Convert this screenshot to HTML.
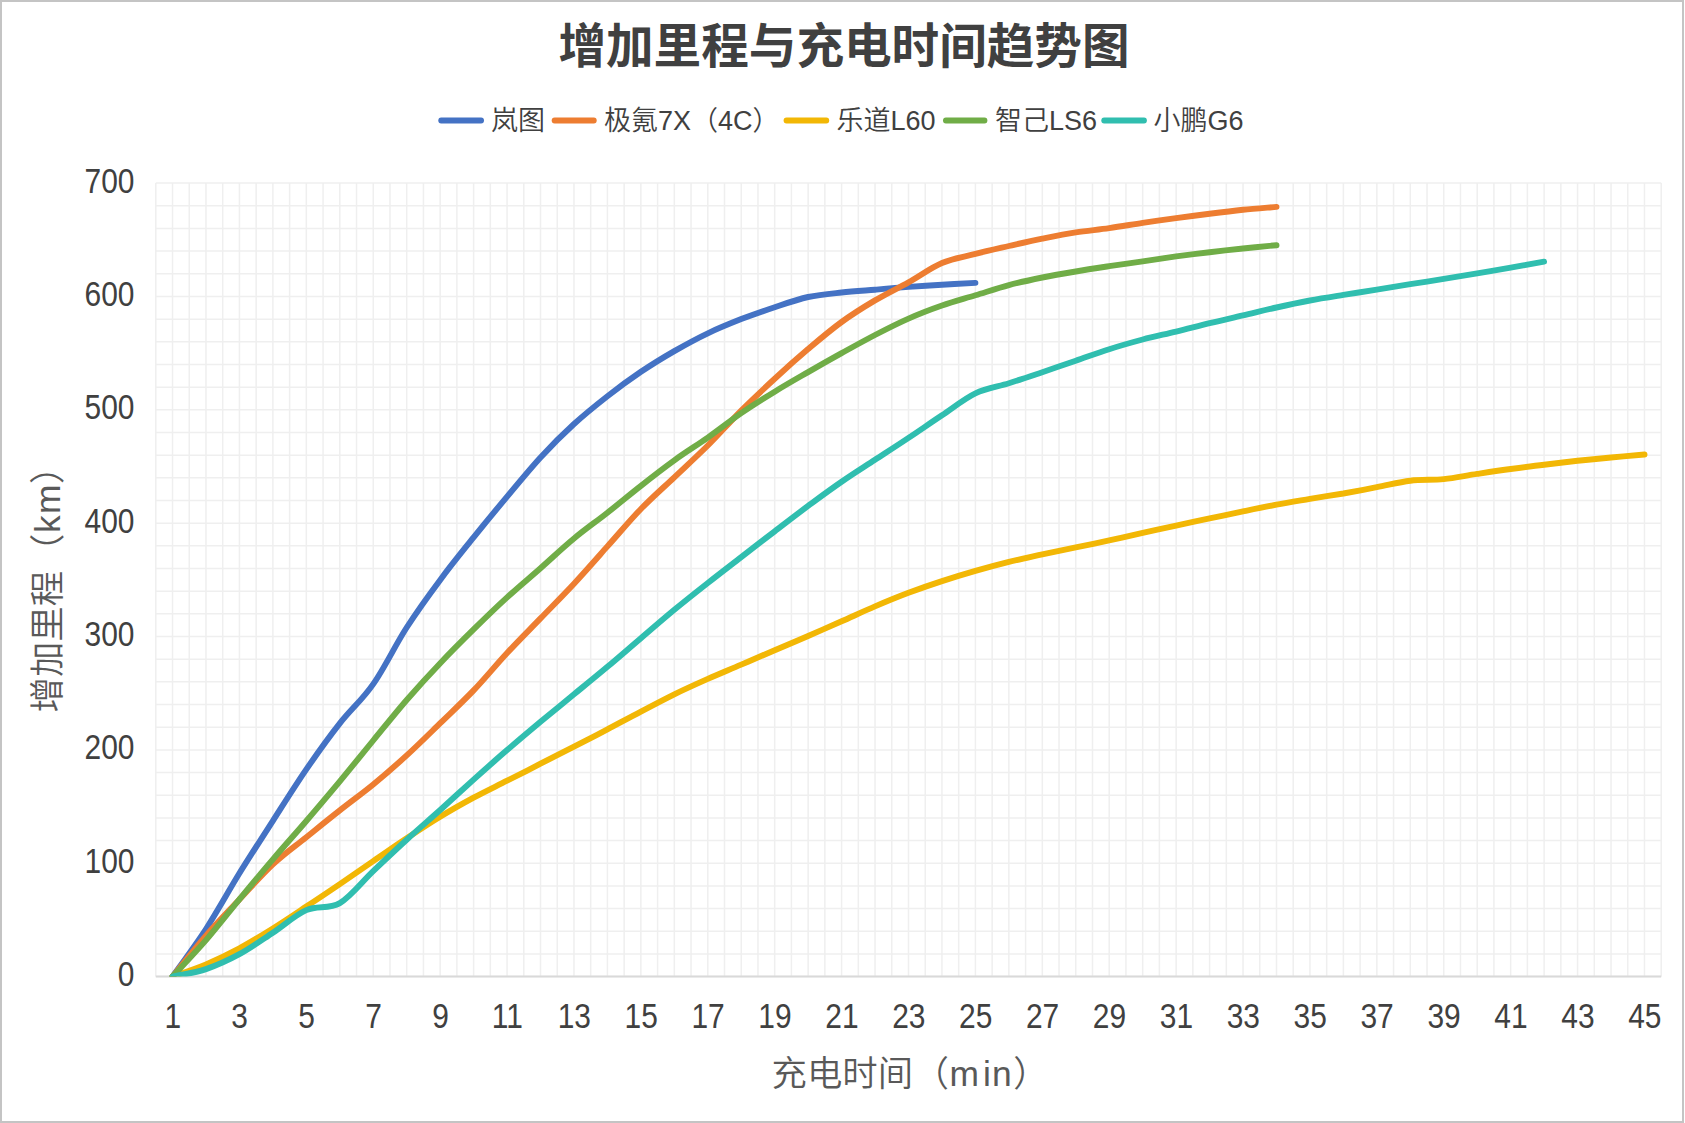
<!DOCTYPE html>
<html><head><meta charset="utf-8"><title>增加里程与充电时间趋势图</title>
<style>
html,body{margin:0;padding:0;background:#fff;}
body{width:1685px;height:1123px;overflow:hidden;}
svg{display:block;}
</style></head><body>
<svg width="1685" height="1123" viewBox="0 0 1685 1123">
<rect x="0" y="0" width="1685" height="1123" fill="#fff"/>
<rect x="1" y="1" width="1682" height="1121" fill="none" stroke="#c4c4c4" stroke-width="2"/>
<path d="M155.80 183.1V976.6M172.53 183.1V976.6M189.25 183.1V976.6M205.98 183.1V976.6M222.71 183.1V976.6M239.43 183.1V976.6M256.16 183.1V976.6M272.89 183.1V976.6M289.61 183.1V976.6M306.34 183.1V976.6M323.07 183.1V976.6M339.79 183.1V976.6M356.52 183.1V976.6M373.25 183.1V976.6M389.97 183.1V976.6M406.70 183.1V976.6M423.43 183.1V976.6M440.15 183.1V976.6M456.88 183.1V976.6M473.61 183.1V976.6M490.33 183.1V976.6M507.06 183.1V976.6M523.79 183.1V976.6M540.51 183.1V976.6M557.24 183.1V976.6M573.97 183.1V976.6M590.69 183.1V976.6M607.42 183.1V976.6M624.15 183.1V976.6M640.87 183.1V976.6M657.60 183.1V976.6M674.33 183.1V976.6M691.05 183.1V976.6M707.78 183.1V976.6M724.51 183.1V976.6M741.23 183.1V976.6M757.96 183.1V976.6M774.69 183.1V976.6M791.41 183.1V976.6M808.14 183.1V976.6M824.87 183.1V976.6M841.59 183.1V976.6M858.32 183.1V976.6M875.05 183.1V976.6M891.77 183.1V976.6M908.50 183.1V976.6M925.23 183.1V976.6M941.95 183.1V976.6M958.68 183.1V976.6M975.41 183.1V976.6M992.13 183.1V976.6M1008.86 183.1V976.6M1025.59 183.1V976.6M1042.31 183.1V976.6M1059.04 183.1V976.6M1075.77 183.1V976.6M1092.49 183.1V976.6M1109.22 183.1V976.6M1125.95 183.1V976.6M1142.67 183.1V976.6M1159.40 183.1V976.6M1176.13 183.1V976.6M1192.85 183.1V976.6M1209.58 183.1V976.6M1226.31 183.1V976.6M1243.03 183.1V976.6M1259.76 183.1V976.6M1276.49 183.1V976.6M1293.21 183.1V976.6M1309.94 183.1V976.6M1326.67 183.1V976.6M1343.39 183.1V976.6M1360.12 183.1V976.6M1376.85 183.1V976.6M1393.57 183.1V976.6M1410.30 183.1V976.6M1427.03 183.1V976.6M1443.75 183.1V976.6M1460.48 183.1V976.6M1477.21 183.1V976.6M1493.93 183.1V976.6M1510.66 183.1V976.6M1527.39 183.1V976.6M1544.11 183.1V976.6M1560.84 183.1V976.6M1577.57 183.1V976.6M1594.29 183.1V976.6M1611.02 183.1V976.6M1627.75 183.1V976.6M1644.47 183.1V976.6M1661.20 183.1V976.6M155.8 976.60H1661.2M155.8 953.93H1661.2M155.8 931.26H1661.2M155.8 908.59H1661.2M155.8 885.91H1661.2M155.8 863.24H1661.2M155.8 840.57H1661.2M155.8 817.90H1661.2M155.8 795.23H1661.2M155.8 772.56H1661.2M155.8 749.89H1661.2M155.8 727.21H1661.2M155.8 704.54H1661.2M155.8 681.87H1661.2M155.8 659.20H1661.2M155.8 636.53H1661.2M155.8 613.86H1661.2M155.8 591.19H1661.2M155.8 568.51H1661.2M155.8 545.84H1661.2M155.8 523.17H1661.2M155.8 500.50H1661.2M155.8 477.83H1661.2M155.8 455.16H1661.2M155.8 432.49H1661.2M155.8 409.81H1661.2M155.8 387.14H1661.2M155.8 364.47H1661.2M155.8 341.80H1661.2M155.8 319.13H1661.2M155.8 296.46H1661.2M155.8 273.79H1661.2M155.8 251.11H1661.2M155.8 228.44H1661.2M155.8 205.77H1661.2M155.8 183.10H1661.2" stroke="#efefef" stroke-width="1.5" fill="none"/>
<path d="M155.8 976.6H1661.2" stroke="#d9d9d9" stroke-width="2" fill="none"/>
<g font-family='"Liberation Sans", "Noto Sans CJK SC", sans-serif' font-size="47.6" font-weight="700" fill="#404040" text-anchor="middle">
<text x="844" y="63">增加里程与充电时间趋势图</text></g>
<g font-family='"Liberation Sans", "Noto Sans CJK SC", sans-serif' font-size="27" font-weight="350" fill="#404040"><text x="491.0" y="130">岚图</text><text x="604.0" y="130">极氪7X（4C）</text><text x="836.5" y="130">乐道L60</text><text x="995.0" y="130">智己LS6</text><text x="1153.5" y="130">小鹏G6</text></g>
<g stroke-width="5.8" stroke-linecap="round" fill="none"><line x1="441.2" y1="120.5" x2="481.1" y2="120.5" stroke="#4472C4"/><line x1="554.6" y1="120.5" x2="593.8" y2="120.5" stroke="#ED7D31"/><line x1="786.5" y1="120.5" x2="826.3" y2="120.5" stroke="#F2B705"/><line x1="945.9" y1="120.5" x2="984.5" y2="120.5" stroke="#70AD47"/><line x1="1104.2" y1="120.5" x2="1144.0" y2="120.5" stroke="#30BEAF"/></g>
<g font-family='"Liberation Sans", "Noto Sans CJK SC", sans-serif' font-size="34.4" fill="#404040" text-anchor="end"><text transform="translate(134.5 986.0) scale(0.87 1)">0</text><text transform="translate(134.5 872.6) scale(0.87 1)">100</text><text transform="translate(134.5 759.3) scale(0.87 1)">200</text><text transform="translate(134.5 645.9) scale(0.87 1)">300</text><text transform="translate(134.5 532.6) scale(0.87 1)">400</text><text transform="translate(134.5 419.2) scale(0.87 1)">500</text><text transform="translate(134.5 305.9) scale(0.87 1)">600</text><text transform="translate(134.5 192.5) scale(0.87 1)">700</text></g>
<g font-family='"Liberation Sans", "Noto Sans CJK SC", sans-serif' font-size="34.4" fill="#404040" text-anchor="middle"><text transform="translate(172.8 1028) scale(0.87 1)">1</text><text transform="translate(239.7 1028) scale(0.87 1)">3</text><text transform="translate(306.6 1028) scale(0.87 1)">5</text><text transform="translate(373.5 1028) scale(0.87 1)">7</text><text transform="translate(440.5 1028) scale(0.87 1)">9</text><text transform="translate(507.4 1028) scale(0.87 1)">11</text><text transform="translate(574.3 1028) scale(0.87 1)">13</text><text transform="translate(641.2 1028) scale(0.87 1)">15</text><text transform="translate(708.1 1028) scale(0.87 1)">17</text><text transform="translate(775.0 1028) scale(0.87 1)">19</text><text transform="translate(841.9 1028) scale(0.87 1)">21</text><text transform="translate(908.8 1028) scale(0.87 1)">23</text><text transform="translate(975.7 1028) scale(0.87 1)">25</text><text transform="translate(1042.6 1028) scale(0.87 1)">27</text><text transform="translate(1109.5 1028) scale(0.87 1)">29</text><text transform="translate(1176.4 1028) scale(0.87 1)">31</text><text transform="translate(1243.3 1028) scale(0.87 1)">33</text><text transform="translate(1310.2 1028) scale(0.87 1)">35</text><text transform="translate(1377.1 1028) scale(0.87 1)">37</text><text transform="translate(1444.1 1028) scale(0.87 1)">39</text><text transform="translate(1511.0 1028) scale(0.87 1)">41</text><text transform="translate(1577.9 1028) scale(0.87 1)">43</text><text transform="translate(1644.8 1028) scale(0.87 1)">45</text></g>
<g font-family='"Liberation Sans", "Noto Sans CJK SC", sans-serif' font-size="35.4" font-weight="350" fill="#595959">
<text y="1085.5"><tspan x="771.5">充电时间</tspan><tspan x="913.5">（</tspan><tspan x="949.5">m</tspan><tspan x="983">i</tspan><tspan x="992">n</tspan><tspan x="1013.3">）</tspan></text>
<text transform="translate(59.6 0) rotate(-90)"><tspan x="-712.5">增加里程</tspan><tspan x="-569">（</tspan><tspan x="-533">k</tspan><tspan x="-514">m</tspan><tspan x="-484">）</tspan></text></g>
<defs><clipPath id="pc"><rect x="155.8" y="150" width="1505.4" height="826.6"/></clipPath></defs>
<g fill="none" stroke-width="5.9" stroke-linecap="round" stroke-linejoin="round" clip-path="url(#pc)"><path d="M172.5 976.6C178.1 968.7 194.8 946.2 206.0 929.0C217.1 911.8 228.3 891.4 239.4 873.3C250.6 855.3 261.7 838.2 272.9 820.8C284.0 803.5 295.2 785.6 306.3 769.4C317.5 753.1 328.6 737.6 339.8 723.4C350.9 709.2 362.1 700.1 373.2 684.1C384.4 668.2 395.5 644.8 406.7 627.5C417.9 610.1 429.0 594.9 440.2 579.9C451.3 564.8 462.5 551.2 473.6 537.3C484.8 523.5 495.9 510.0 507.1 496.6C518.2 483.3 529.4 469.5 540.5 457.4C551.7 445.3 562.8 434.2 574.0 424.0C585.1 413.8 596.3 404.9 607.4 396.2C618.6 387.5 629.7 379.4 640.9 371.8C652.0 364.3 663.2 357.5 674.3 351.1C685.5 344.7 696.6 338.6 707.8 333.3C718.9 328.0 730.1 323.5 741.2 319.1C752.4 314.8 763.5 310.9 774.7 307.2C785.8 303.5 797.0 299.5 808.1 297.0C819.3 294.6 830.4 293.7 841.6 292.5C852.7 291.3 863.9 290.6 875.0 289.7C886.2 288.7 897.3 287.7 908.5 286.9C919.7 286.1 930.8 285.5 942.0 284.8C953.1 284.1 969.8 283.2 975.4 282.9" stroke="#4472C4"/><path d="M172.5 976.6C178.1 969.8 194.8 948.4 206.0 935.6C217.1 922.7 228.3 911.4 239.4 899.5C250.6 887.7 261.7 874.8 272.9 864.4C284.0 854.0 295.2 846.2 306.3 837.2C317.5 828.2 328.6 819.2 339.8 810.4C350.9 801.6 362.1 793.6 373.2 784.5C384.4 775.3 395.5 765.6 406.7 755.4C417.9 745.2 429.0 734.1 440.2 723.2C451.3 712.4 462.5 702.1 473.6 690.4C484.8 678.7 495.9 665.0 507.1 653.0C518.2 641.0 529.4 629.9 540.5 618.4C551.7 606.8 562.8 595.7 574.0 583.7C585.1 571.7 596.3 558.9 607.4 546.4C618.6 534.0 629.7 520.5 640.9 509.0C652.0 497.5 663.2 487.8 674.3 477.3C685.5 466.7 696.6 456.6 707.8 445.5C718.9 434.4 730.1 421.7 741.2 410.6C752.4 399.5 763.5 389.0 774.7 378.8C785.8 368.5 797.0 358.5 808.1 349.1C819.3 339.6 830.4 330.1 841.6 322.0C852.7 313.9 863.9 307.0 875.0 300.4C886.2 293.8 897.3 288.5 908.5 282.3C919.7 276.1 930.8 267.7 942.0 263.0C953.1 258.3 964.3 256.8 975.4 253.9C986.6 251.1 997.7 248.6 1008.9 246.0C1020.0 243.5 1031.2 240.9 1042.3 238.6C1053.5 236.4 1064.6 234.2 1075.8 232.4C1086.9 230.7 1098.1 229.7 1109.2 228.1C1120.4 226.5 1131.5 224.6 1142.7 222.9C1153.8 221.2 1165.0 219.7 1176.1 218.1C1187.3 216.6 1198.4 215.1 1209.6 213.7C1220.7 212.3 1231.9 210.9 1243.0 209.7C1254.2 208.6 1270.9 207.4 1276.5 206.9" stroke="#ED7D31"/><path d="M172.5 976.6C178.1 974.6 194.8 969.1 206.0 964.4C217.1 959.6 228.3 954.2 239.4 948.3C250.6 942.3 261.7 935.4 272.9 928.4C284.0 921.5 295.2 913.9 306.3 906.5C317.5 899.2 328.6 891.7 339.8 884.1C350.9 876.5 362.1 868.7 373.2 861.1C384.4 853.5 395.5 845.7 406.7 838.3C417.9 830.9 429.0 823.5 440.2 816.8C451.3 810.0 462.5 803.7 473.6 797.7C484.8 791.7 495.9 786.4 507.1 780.7C518.2 775.1 529.4 769.4 540.5 763.7C551.7 758.0 562.8 752.3 574.0 746.6C585.1 740.9 596.3 735.2 607.4 729.4C618.6 723.5 629.7 717.4 640.9 711.6C652.0 705.7 663.2 699.8 674.3 694.3C685.5 688.9 696.6 683.9 707.8 678.9C718.9 674.0 730.1 669.4 741.2 664.6C752.4 659.9 763.5 655.0 774.7 650.2C785.8 645.5 797.0 640.8 808.1 636.0C819.3 631.1 830.4 626.3 841.6 621.3C852.7 616.4 863.9 611.1 875.0 606.4C886.2 601.6 897.3 597.0 908.5 592.8C919.7 588.6 930.8 584.7 942.0 581.1C953.1 577.5 964.3 574.1 975.4 570.9C986.6 567.7 997.7 564.7 1008.9 561.9C1020.0 559.2 1031.2 556.8 1042.3 554.3C1053.5 551.9 1064.6 549.8 1075.8 547.4C1086.9 545.1 1098.1 542.8 1109.2 540.4C1120.4 538.0 1131.5 535.4 1142.7 532.9C1153.8 530.4 1165.0 528.0 1176.1 525.6C1187.3 523.1 1198.4 520.8 1209.6 518.4C1220.7 516.0 1231.9 513.7 1243.0 511.4C1254.2 509.1 1265.3 506.8 1276.5 504.7C1287.6 502.6 1298.8 500.8 1309.9 498.9C1321.1 497.0 1332.2 495.4 1343.4 493.5C1354.5 491.5 1365.7 489.4 1376.8 487.2C1388.0 485.1 1399.1 482.0 1410.3 480.7C1421.5 479.3 1432.6 480.2 1443.8 479.1C1454.9 477.9 1466.1 475.5 1477.2 473.9C1488.4 472.2 1499.5 470.5 1510.7 469.0C1521.8 467.5 1533.0 466.0 1544.1 464.7C1555.3 463.3 1566.4 462.0 1577.6 460.8C1588.7 459.6 1599.9 458.6 1611.0 457.5C1622.2 456.5 1638.9 455.0 1644.5 454.5" stroke="#F2B705"/><path d="M172.5 976.6C178.1 970.5 194.8 953.0 206.0 940.1C217.1 927.2 228.3 912.7 239.4 899.3C250.6 885.8 261.7 872.4 272.9 859.4C284.0 846.3 295.2 834.0 306.3 821.0C317.5 808.0 328.6 794.8 339.8 781.4C350.9 768.0 362.1 754.0 373.2 740.5C384.4 726.9 395.5 712.9 406.7 700.0C417.9 687.1 429.0 674.9 440.2 663.2C451.3 651.4 462.5 640.3 473.6 629.4C484.8 618.4 495.9 607.6 507.1 597.4C518.2 587.2 529.4 578.0 540.5 568.2C551.7 558.3 562.8 547.7 574.0 538.5C585.1 529.2 596.3 521.5 607.4 512.7C618.6 504.0 629.7 494.5 640.9 485.8C652.0 477.0 663.2 468.3 674.3 460.3C685.5 452.2 696.6 445.4 707.8 437.6C718.9 429.7 730.1 420.9 741.2 413.2C752.4 405.6 763.5 398.5 774.7 391.7C785.8 384.8 797.0 378.5 808.1 372.1C819.3 365.6 830.4 359.3 841.6 353.1C852.7 347.0 863.9 340.8 875.0 335.0C886.2 329.2 897.3 323.5 908.5 318.6C919.7 313.6 930.8 309.4 942.0 305.5C953.1 301.7 964.3 298.7 975.4 295.3C986.6 291.9 997.7 288.1 1008.9 285.1C1020.0 282.2 1031.2 279.8 1042.3 277.5C1053.5 275.3 1064.6 273.4 1075.8 271.5C1086.9 269.6 1098.1 267.9 1109.2 266.2C1120.4 264.5 1131.5 262.9 1142.7 261.3C1153.8 259.7 1165.0 258.0 1176.1 256.4C1187.3 254.9 1198.4 253.6 1209.6 252.2C1220.7 250.9 1231.9 249.7 1243.0 248.5C1254.2 247.3 1270.9 245.8 1276.5 245.2" stroke="#70AD47"/><path d="M172.5 976.6C178.1 975.4 194.8 972.9 206.0 969.1C217.1 965.4 228.3 960.2 239.4 954.2C250.6 948.1 261.7 940.1 272.9 932.7C284.0 925.4 295.2 915.0 306.3 910.1C317.5 905.1 328.6 909.6 339.8 903.1C350.9 896.6 362.1 881.6 373.2 871.1C384.4 860.5 395.5 849.8 406.7 839.7C417.9 829.5 429.0 820.0 440.2 810.0C451.3 800.0 462.5 789.6 473.6 779.6C484.8 769.6 495.9 759.7 507.1 750.1C518.2 740.5 529.4 731.1 540.5 721.8C551.7 712.5 562.8 703.5 574.0 694.3C585.1 685.2 596.3 676.1 607.4 666.8C618.6 657.4 629.7 647.7 640.9 638.2C652.0 628.7 663.2 619.0 674.3 609.8C685.5 600.6 696.6 591.8 707.8 583.0C718.9 574.2 730.1 565.7 741.2 557.1C752.4 548.5 763.5 539.9 774.7 531.3C785.8 522.8 797.0 514.2 808.1 505.9C819.3 497.7 830.4 489.5 841.6 481.8C852.7 474.1 863.9 467.1 875.0 459.8C886.2 452.5 897.3 445.4 908.5 437.9C919.7 430.5 930.8 422.7 942.0 415.3C953.1 407.8 964.3 398.6 975.4 393.3C986.6 387.9 997.7 386.7 1008.9 383.2C1020.0 379.7 1031.2 375.9 1042.3 372.2C1053.5 368.4 1064.6 364.6 1075.8 360.7C1086.9 356.9 1098.1 352.7 1109.2 349.2C1120.4 345.6 1131.5 342.5 1142.7 339.5C1153.8 336.6 1165.0 334.3 1176.1 331.6C1187.3 328.9 1198.4 325.8 1209.6 323.1C1220.7 320.4 1231.9 318.0 1243.0 315.4C1254.2 312.8 1265.3 309.9 1276.5 307.5C1287.6 305.0 1298.8 302.6 1309.9 300.5C1321.1 298.4 1332.2 296.7 1343.4 294.9C1354.5 293.1 1365.7 291.4 1376.8 289.7C1388.0 287.9 1399.1 286.0 1410.3 284.2C1421.5 282.4 1432.6 280.7 1443.8 278.9C1454.9 277.1 1466.1 275.3 1477.2 273.4C1488.4 271.6 1499.5 269.6 1510.7 267.7C1521.8 265.7 1538.5 262.7 1544.1 261.7" stroke="#30BEAF"/></g>
</svg>
</body></html>
